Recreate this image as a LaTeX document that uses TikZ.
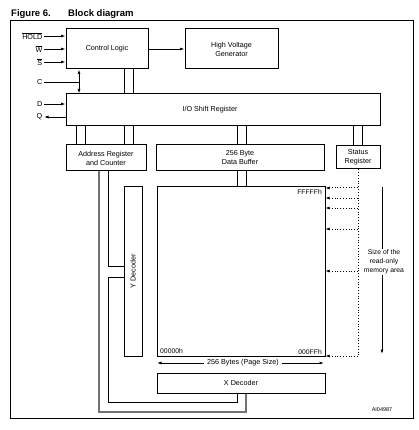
\documentclass[tikz,border=0pt]{standalone}
\usepackage{fontspec}
\setmainfont{Liberation Sans}
\usetikzlibrary{arrows.meta}
\begin{document}
\begin{tikzpicture}[x=1pt,y=-1pt,
  every node/.style={font=\fontsize{7.2}{9}\selectfont},
  blk/.style={draw,line width=1pt,inner sep=0pt,align=center},
  wire/.style={line width=0.8pt},
  graywire/.style={line width=1.6pt,color=black!55},
  arr/.style={wire,-{Latex[length=4.5pt,width=3pt]}},
  darr/.style={wire,{Latex[length=4.5pt,width=3pt]}-{Latex[length=4.5pt,width=3pt]}},
  dots/.style={line width=1pt,dash pattern=on 1pt off 1.8pt},
  dotarrow/.style={dots,-{Latex[length=4pt,width=3pt]}},
  pin/.style={anchor=east,inner sep=1.5pt},
  small/.style={font=\fontsize{6.8}{9}\selectfont,inner sep=1pt},
]
\useasboundingbox (0,0) rectangle (419,430);
% title
\node[anchor=west,inner sep=0pt,font=\fontsize{9.5}{11}\selectfont\bfseries] (fig) at (11,14) {Figure 6.};
\node[anchor=west,inner sep=0pt,font=\fontsize{9.5}{11}\selectfont\bfseries] (ttl) at (68,14) {Block diagram};
% frame
\draw[line width=1pt] (10,21) rectangle (413,418);
% blocks
\node[blk,minimum width=82pt,minimum height=40pt] (ctrl) at (107,49) {Control Logic};
\node[blk,minimum width=93pt,minimum height=40pt] (hvg) at (231.5,49) {High Voltage\\Generator};
\node[blk,minimum width=314pt,minimum height=32pt,label={[xshift=-13pt]center:I/O Shift Register}] (io) at (223,110) {};
\node[blk,minimum width=80pt,minimum height=26pt] (addr) at (106,158) {Address Register\\and Counter};
\node[blk,minimum width=168pt,minimum height=26pt] (buf) at (240,158) {256 Byte\\Data Buffer};
\node[blk,minimum width=44pt,minimum height=23pt] (stat) at (358,157.5) {Status\\Register};
\node[blk,minimum width=168pt,minimum height=169pt] (mem) at (241,271.5) {};
\node[blk,minimum width=18pt,minimum height=169pt] (ydec) at (133,271.5) {};
\node[rotate=90] (ylab) at (ydec.center) {Y Decoder};
\node[blk,minimum width=168pt,minimum height=20pt] (xdec) at (241,383) {X Decoder};
% memory labels
\node[small,anchor=east] (ftop) at (323,192) {FFFFFh};
\node[small,anchor=west] (zlo) at (159,351) {00000h};
\node[small,anchor=east] (fflo) at (323,352) {000FFh};
% input pins
\node[pin] (hold) at (44,36) {$\overline{\mbox{HOLD}}$};
\node[pin] (w) at (44,49) {$\overline{\mbox{W}}$};
\node[pin] (s) at (44,62) {$\overline{\mbox{S}}$};
\node[pin] (c) at (44,82) {C};
\node[pin] (d) at (44,104) {D};
\node[pin] (q) at (44,117) {Q};
\draw[arr] (hold.east) -- (hold.east -| ctrl.west);
\draw[arr] (w.east) -- (w.east -| ctrl.west);
\draw[arr] (s.east) -- (s.east -| ctrl.west);
\draw[arr] (d.east) -- (d.east -| io.west);
\draw[arr] (q.east -| io.west) -- (q.east);
\coordinate (cj) at (79,82);
\draw[wire] (c.east) -- (cj);
\draw[darr] (cj |- ctrl.south) -- (cj |- io.north);
\draw[arr] (ctrl.east) -- (hvg.west);
% buses
\foreach \x/\a/\b in {124/ctrl/io, 133/ctrl/io, 76/io/addr, 85/io/addr, 124/io/addr, 133/io/addr, 237/io/buf, 246/io/buf, 353/io/stat, 362/io/stat, 237/buf/mem, 246/buf/mem}{
  \coordinate (t) at (\x,0);
  \draw[wire] (t |- \a.south) -- (t |- \b.north);
}
% address lines
\coordinate (ga) at (99,412);
\coordinate (gb) at (246,412);
\draw[graywire] (ga |- addr.south) -- (ga) -- (gb) -- (gb |- xdec.south);
\coordinate (ya) at (108,266);
\draw[wire] (ya |- addr.south) -- (ya) -- (ya -| ydec.west);
\coordinate (yb) at (108,277);
\coordinate (yc) at (108,402);
\coordinate (yd) at (237,402);
\draw[wire] (yb -| ydec.west) -- (yb) -- (yc) -- (yd) -- (yd |- xdec.south);
% page size
\node (pg) at (243,363) {256 Bytes (Page Size)};
\coordinate (pl) at (157,363);
\coordinate (pr) at (324,363);
\draw[arr] (pg.west) -- (pl);
\draw[arr] (pg.east) -- (pr);
% read-only area
\coordinate (dv) at (358,356);
\draw[dots] (stat.south) -- (dv);
\draw[dotarrow] (dv) -- (dv -| mem.east);
\foreach \y in {188,198,208,229,271}{
  \coordinate (dh) at (358,\y);
  \draw[dotarrow] (dh) -- (dh -| mem.east);
}
\node[small,align=center] (size) at (384,262) {Size of the\\read-only\\memory area};
\coordinate (s1) at (382,187);
\coordinate (s2) at (382,354);
\draw[wire] (s1) -- (s1 |- size.north);
\draw[arr] (s2 |- size.south) -- (s2);
% reference
\node[font=\fontsize{5.5}{7}\selectfont] (ai) at (382,410) {AI04987};
\end{tikzpicture}
\end{document}
